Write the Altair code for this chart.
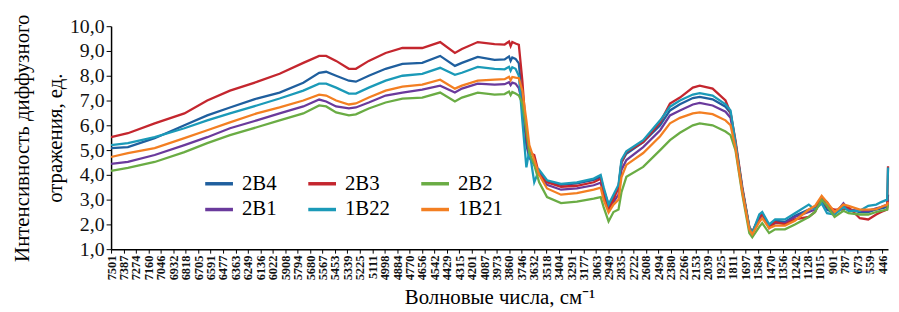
import altair as alt
import pandas as pd

wavenumbers = [7501, 7347, 7102, 6830, 6621, 6413, 6168, 5959, 5742, 5597, 5533, 5442, 5325, 5261, 5143,
               4989, 4835, 4654, 4490, 4355, 4291, 4146, 3992, 3900, 3860, 3845, 3830, 3800, 3770, 3738,
               3701, 3674, 3629, 3584, 3512, 3384, 3239, 3085, 3021, 2994, 2949, 2904, 2858, 2831, 2786,
               2632, 2477, 2387, 2296, 2178, 2115, 1997, 1879, 1833, 1788, 1725, 1661, 1634, 1570, 1543,
               1480, 1425, 1335, 1244, 1117, 1060, 999, 950, 881, 800, 754, 650, 573, 500, 455, 400, 392]

s_2B4 = [5.08, 5.12, 5.48, 6.0, 6.4, 6.72, 7.08, 7.32, 7.72, 8.12, 8.16, 8.0, 7.8, 7.76, 8.0,
         8.28, 8.48, 8.52, 8.8, 8.4, 8.52, 8.76, 8.64, 8.66, 8.78, 8.6, 8.74, 8.68, 8.5, 7.0,
         5.2, 4.7, 4.4, 4.1, 3.72, 3.6, 3.66, 3.8, 3.92, 3.4, 2.8, 3.1, 3.5, 4.5, 4.85,
         5.32, 6.0, 6.6, 6.85, 7.1, 7.15, 7.05, 6.75, 6.5, 5.3, 3.4, 1.85, 1.65, 2.3, 2.45,
         1.95, 2.15, 2.1, 2.35, 2.6, 2.7, 3.0, 2.6, 2.45, 2.75, 2.6, 2.5, 2.5, 2.6, 2.65, 2.7, 3.2]
s_2B3 = [5.52, 5.68, 6.08, 6.48, 7.0, 7.4, 7.75, 8.08, 8.52, 8.8, 8.8, 8.6, 8.28, 8.28, 8.6,
         8.92, 9.12, 9.12, 9.36, 8.92, 9.08, 9.36, 9.28, 9.26, 9.38, 9.2, 9.36, 9.3, 9.25, 7.8,
         5.6, 4.9, 4.8, 4.0, 3.7, 3.52, 3.56, 3.7, 3.84, 3.3, 2.6, 3.0, 3.5, 4.5, 4.92,
         5.32, 6.12, 6.88, 7.12, 7.52, 7.6, 7.48, 7.0, 6.5, 5.4, 3.5, 1.9, 1.7, 2.3, 2.4,
         1.85, 2.1, 2.0, 2.2, 2.3, 2.5, 3.1, 2.7, 2.6, 2.6, 2.7, 2.25, 2.2, 2.4, 2.5, 2.6, 4.35]
s_2B2 = [4.16, 4.28, 4.52, 4.92, 5.28, 5.6, 5.92, 6.2, 6.48, 6.8, 6.76, 6.52, 6.4, 6.44, 6.68,
         6.92, 7.08, 7.12, 7.32, 6.96, 7.12, 7.32, 7.24, 7.26, 7.36, 7.22, 7.34, 7.28, 7.2, 6.9,
         5.8, 4.9, 4.4, 3.7, 3.1, 2.86, 2.92, 3.04, 3.1, 2.7, 2.12, 2.5, 2.6, 3.3, 3.92,
         4.32, 5.0, 5.4, 5.7, 6.0, 6.08, 6.0, 5.75, 5.6, 5.0, 3.2, 1.65, 1.48, 1.9, 2.05,
         1.65, 1.8, 1.8, 2.0, 2.3, 2.5, 3.0, 2.75, 2.3, 2.55, 2.45, 2.4, 2.4, 2.5, 2.55, 2.6, 2.8]
s_2B1 = [4.44, 4.52, 4.8, 5.2, 5.52, 5.88, 6.2, 6.48, 6.76, 7.04, 6.96, 6.76, 6.68, 6.72, 6.92,
         7.2, 7.32, 7.44, 7.6, 7.32, 7.48, 7.68, 7.64, 7.66, 7.74, 7.62, 7.72, 7.68, 7.5, 6.9,
         5.6, 4.7, 4.5, 4.1, 3.6, 3.4, 3.45, 3.58, 3.68, 3.2, 2.68, 2.9, 3.2, 4.2, 4.6,
         5.12, 5.8, 6.4, 6.6, 6.84, 6.9, 6.8, 6.55, 6.3, 5.2, 3.4, 1.85, 1.62, 2.2, 2.35,
         1.9, 2.05, 2.05, 2.3, 2.5, 2.6, 3.05, 2.9, 2.4, 2.85, 2.6, 2.55, 2.55, 2.65, 2.7, 2.8, 3.0]
s_1B22 = [5.2, 5.28, 5.52, 5.88, 6.2, 6.48, 6.8, 7.08, 7.4, 7.68, 7.68, 7.52, 7.28, 7.28, 7.52,
          7.8, 8.0, 8.08, 8.32, 8.04, 8.12, 8.36, 8.28, 8.26, 8.36, 8.2, 8.34, 8.28, 8.0, 6.2,
          4.3, 5.0, 3.7, 4.2, 3.78, 3.64, 3.7, 3.85, 4.0, 3.5, 2.8, 3.2, 3.6, 4.6, 4.95,
          5.4, 6.2, 6.75, 7.0, 7.24, 7.3, 7.2, 6.85, 6.6, 5.3, 3.4, 1.9, 1.65, 2.4, 2.5,
          2.0, 2.2, 2.2, 2.45, 2.8, 2.6, 2.85, 2.45, 2.4, 2.7, 2.55, 2.55, 2.75, 2.8, 2.9, 3.0, 4.3]
s_1B21 = [4.72, 4.88, 5.08, 5.48, 5.8, 6.12, 6.48, 6.72, 7.0, 7.24, 7.2, 7.0, 6.84, 6.88, 7.12,
          7.4, 7.56, 7.64, 7.84, 7.48, 7.6, 7.8, 7.84, 7.86, 7.96, 7.82, 7.95, 7.92, 7.9, 7.4,
          6.2, 5.2, 4.6, 4.0, 3.45, 3.2, 3.26, 3.4, 3.48, 3.0, 2.48, 2.8, 3.0, 3.9, 4.4,
          4.88, 5.56, 6.08, 6.3, 6.48, 6.52, 6.45, 6.2, 6.0, 5.1, 3.3, 1.8, 1.6, 2.1, 2.25,
          1.85, 1.95, 1.95, 2.15, 2.6, 2.75, 3.15, 2.9, 2.5, 2.8, 2.75, 2.6, 2.6, 2.62, 2.7, 2.8, 2.9]

# legend fills column by column: this order shows rows 2B4 2B3 2B2 / 2B1 1B22 1B21
series_names = ["2B4", "2B1", "2B3", "1B22", "2B2", "1B21"]
series_colors = ["#1f5f9e", "#6a3a9c", "#c4262e", "#1b9ab8", "#6aac44", "#f37f22"]
series_values = [s_2B4, s_2B1, s_2B3, s_1B22, s_2B2, s_1B21]

x_ticks = [7501, 7387, 7274, 7160, 7046, 6932, 6818, 6705, 6591, 6477, 6363, 6249, 6136, 6022, 5908,
           5794, 5680, 5567, 5453, 5339, 5225, 5111, 4998, 4884, 4770, 4656, 4542, 4429, 4315, 4201,
           4087, 3973, 3860, 3746, 3632, 3518, 3404, 3291, 3177, 3063, 2949, 2835, 2722, 2608, 2494,
           2380, 2266, 2153, 2039, 1925, 1811, 1697, 1584, 1470, 1356, 1242, 1128, 1015, 901, 787,
           673, 559, 446]
y_ticks = [1, 2, 3, 4, 5, 6, 7, 8, 9, 10]

rows = []
for name, vals in zip(series_names, series_values):
    for i, (w, v) in enumerate(zip(wavenumbers, vals)):
        rows.append({"wn": w, "val": v, "series": name, "order": i})
df = pd.DataFrame(rows)

font = "Liberation Serif"

chart = alt.Chart(df).mark_line(strokeWidth=2.3).encode(
    x=alt.X("wn:Q",
            scale=alt.Scale(domain=[392, 7501], reverse=True, nice=False, zero=False),
            axis=alt.Axis(values=x_ticks, labelExpr="'' + datum.value", labelAngle=270,
                          labelFlush=False, labelFontSize=12.5,
                          labelFont=font, labelFontWeight="bold", labelColor="#111",
                          labelPadding=2, tickSize=4, tickColor="black", domainColor="black",
                          domainWidth=1.5, grid=False, labelOverlap=False,
                          title="Волновые числа, см⁻¹", titleFont=font, titleFontSize=21,
                          titleFontWeight="normal", titleColor="black", titlePadding=7)),
    y=alt.Y("val:Q",
            scale=alt.Scale(domain=[1, 10], nice=False, zero=False),
            axis=alt.Axis(values=y_ticks,
                          labelExpr="replace(format(datum.value, '.1f'), '.', ',')",
                          labelFont=font, labelFontSize=20, labelColor="#111", labelPadding=2,
                          tickSize=5, tickColor="black", domainColor="black", domainWidth=1.5,
                          grid=False,
                          title=["Интенсивность диффузного", "отражения, ед."],
                          titleFont=font, titleFontSize=21, titleFontWeight="normal",
                          titleColor="black", titleLineHeight=33, titlePadding=4)),
    color=alt.Color("series:N",
                    scale=alt.Scale(domain=series_names, range=series_colors),
                    legend=alt.Legend(title=None, orient="none", legendX=93, legendY=143,
                                      columns=3, symbolType="stroke", symbolSize=784,
                                      symbolStrokeWidth=3.5, labelFont=font, labelFontSize=21,
                                      labelColor="black", columnPadding=24, rowPadding=0,
                                      labelOffset=7)),
    order=alt.Order("order:Q"),
    detail="series:N",
).properties(
    width=784, height=225,
    autosize=alt.AutoSizeParams(type="none"),
    padding={"left": 104, "top": 17, "right": 3, "bottom": 58},
    background="white",
).configure_view(stroke=None)

chart.save("out.html", embed_options={"renderer": "svg", "actions": False})
